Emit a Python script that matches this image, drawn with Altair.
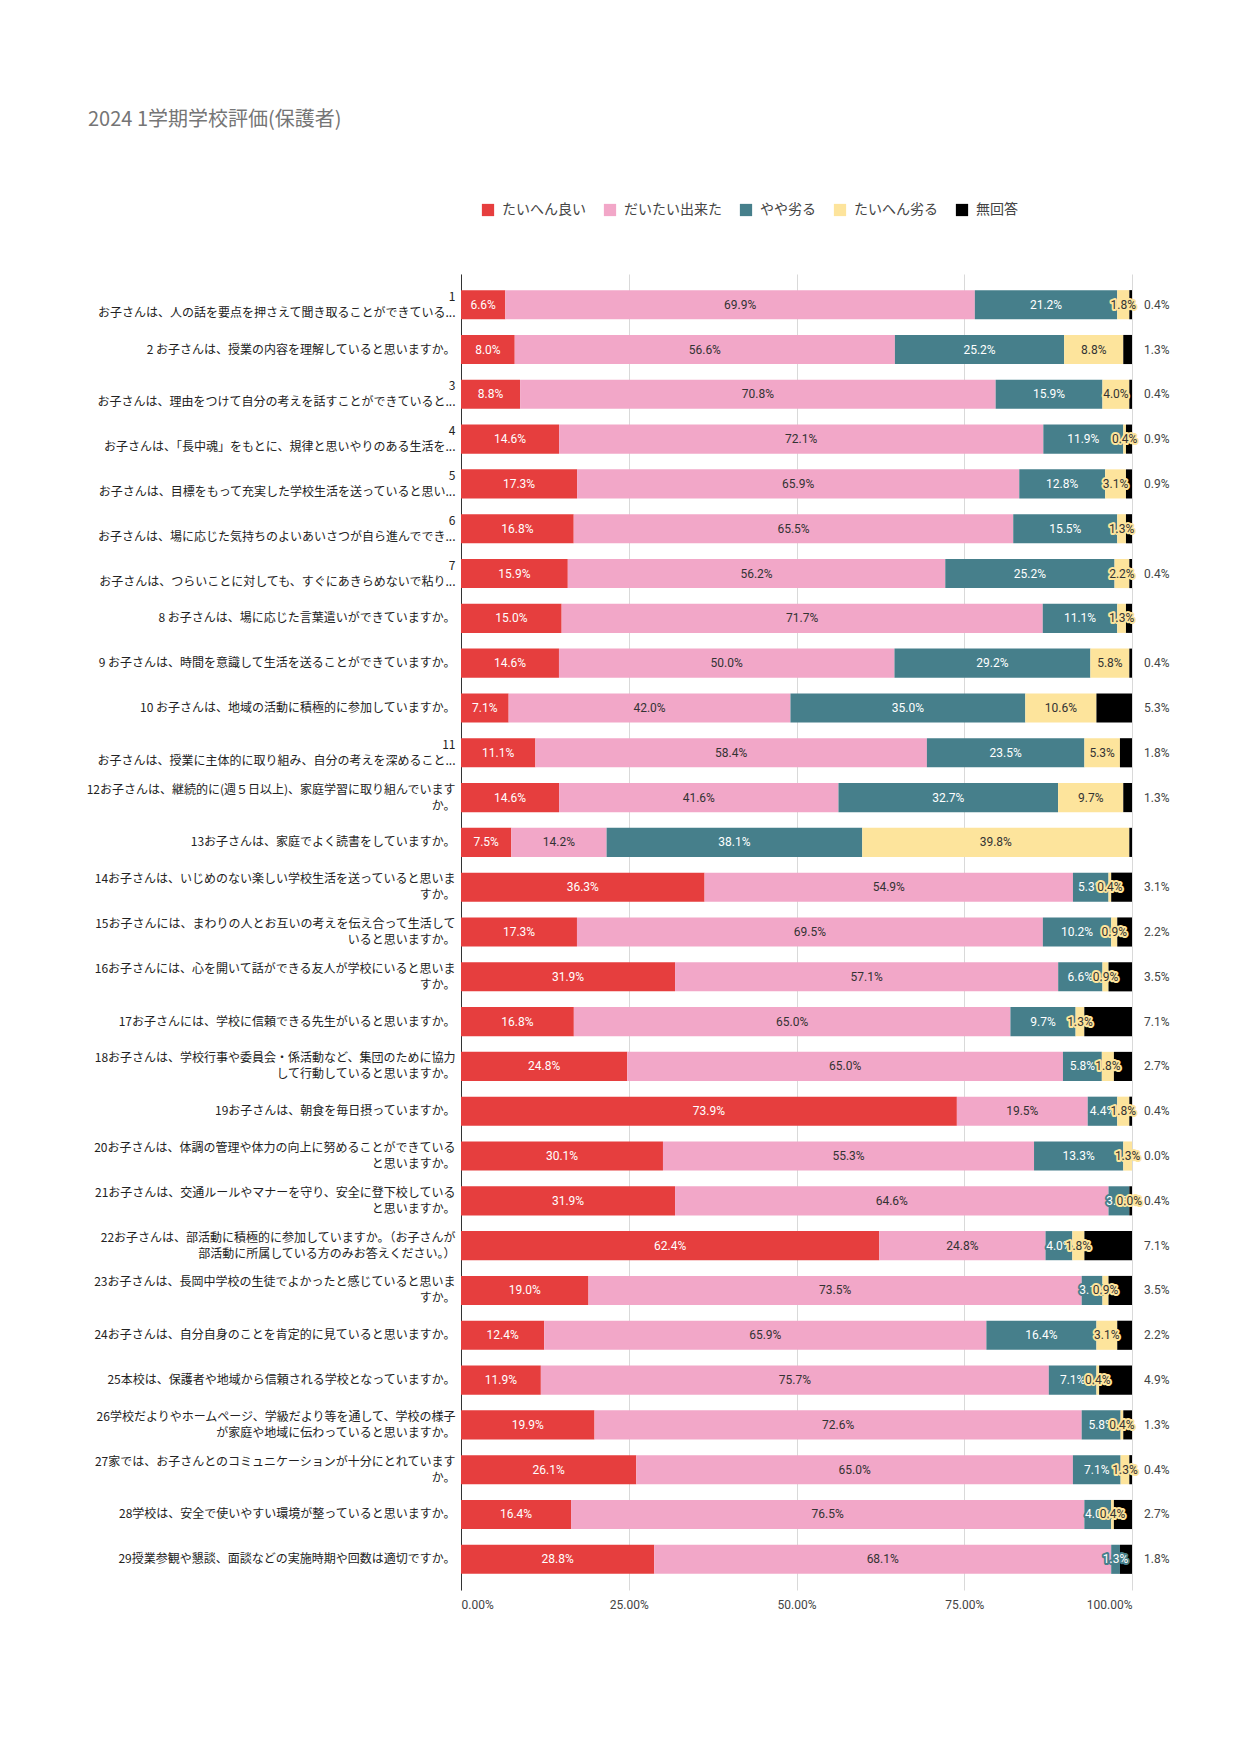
import altair as alt
import pandas as pd

chart_title = "2024 1学期学校評価(保護者)"
categories = ["たいへん良い", "だいたい出来た", "やや劣る", "たいへん劣る", "無回答"]
colors = ["#e63e3e", "#f2a7c8", "#467f8b", "#fde49c", "#000000"]
text_colors = ["#ffffff", "#333333", "#ffffff", "#333333"]

questions = [
    "1|お子さんは、人の話を要点を押さえて聞き取ることができている...",
    "2 お子さんは、授業の内容を理解していると思いますか。",
    "3|お子さんは、理由をつけて自分の考えを話すことができていると...",
    "4|お子さんは、「長中魂」をもとに、規律と思いやりのある生活を...",
    "5|お子さんは、目標をもって充実した学校生活を送っていると思い...",
    "6|お子さんは、場に応じた気持ちのよいあいさつが自ら進んででき...",
    "7|お子さんは、つらいことに対しても、すぐにあきらめないで粘り...",
    "8 お子さんは、場に応じた言葉遣いができていますか。",
    "9 お子さんは、時間を意識して生活を送ることができていますか。",
    "10 お子さんは、地域の活動に積極的に参加していますか。",
    "11|お子さんは、授業に主体的に取り組み、自分の考えを深めること...",
    "12お子さんは、継続的に(週５日以上)、家庭学習に取り組んでいます|か。",
    "13お子さんは、家庭でよく読書をしていますか。",
    "14お子さんは、いじめのない楽しい学校生活を送っていると思いま|すか。",
    "15お子さんには、まわりの人とお互いの考えを伝え合って生活して|いると思いますか。",
    "16お子さんには、心を開いて話ができる友人が学校にいると思いま|すか。",
    "17お子さんには、学校に信頼できる先生がいると思いますか。",
    "18お子さんは、学校行事や委員会・係活動など、集団のために協力|して行動していると思いますか。",
    "19お子さんは、朝食を毎日摂っていますか。",
    "20お子さんは、体調の管理や体力の向上に努めることができている|と思いますか。",
    "21お子さんは、交通ルールやマナーを守り、安全に登下校している|と思いますか。",
    "22お子さんは、部活動に積極的に参加していますか。（お子さんが|部活動に所属している方のみお答えください。）",
    "23お子さんは、長岡中学校の生徒でよかったと感じていると思いま|すか。",
    "24お子さんは、自分自身のことを肯定的に見ていると思いますか。",
    "25本校は、保護者や地域から信頼される学校となっていますか。",
    "26学校だよりやホームページ、学級だより等を通して、学校の様子|が家庭や地域に伝わっていると思いますか。",
    "27家では、お子さんとのコミュニケーションが十分にとれています|か。",
    "28学校は、安全で使いやすい環境が整っていると思いますか。",
    "29授業参観や懇談、面談などの実施時期や回数は適切ですか。",
]

very_good = [6.6, 8.0, 8.8, 14.6, 17.3, 16.8, 15.9, 15.0, 14.6, 7.1, 11.1, 14.6, 7.5, 36.3, 17.3,
             31.9, 16.8, 24.8, 73.9, 30.1, 31.9, 62.4, 19.0, 12.4, 11.9, 19.9, 26.1, 16.4, 28.8]
mostly_done = [69.9, 56.6, 70.8, 72.1, 65.9, 65.5, 56.2, 71.7, 50.0, 42.0, 58.4, 41.6, 14.2, 54.9, 69.5,
               57.1, 65.0, 65.0, 19.5, 55.3, 64.6, 24.8, 73.5, 65.9, 75.7, 72.6, 65.0, 76.5, 68.1]
slightly_poor = [21.2, 25.2, 15.9, 11.9, 12.8, 15.5, 25.2, 11.1, 29.2, 35.0, 23.5, 32.7, 38.1, 5.3, 10.2,
                 6.6, 9.7, 5.8, 4.4, 13.3, 3.1, 4.0, 3.1, 16.4, 7.1, 5.8, 7.1, 4.0, 1.3]
very_poor = [1.8, 8.8, 4.0, 0.4, 3.1, 1.3, 2.2, 1.3, 5.8, 10.6, 5.3, 9.7, 39.8, 0.4, 0.9,
             0.9, 1.3, 1.8, 1.8, 1.3, 0.0, 1.8, 0.9, 3.1, 0.4, 0.4, 1.3, 0.4, None]
no_answer = [0.4, 1.3, 0.4, 0.9, 0.9, 0.9, 0.4, 0.9, 0.4, 5.3, 1.8, 1.3, 0.4, 3.1, 2.2,
             3.5, 7.1, 2.7, 0.4, 0.0, 0.4, 7.1, 3.5, 2.2, 4.9, 1.3, 0.4, 2.7, 1.8]
no_answer_label_hidden = [6, 8, 13]
x_ticks = [0, 0.25, 0.5, 0.75, 1.0]

series = [very_good, mostly_done, slightly_poor, very_poor, no_answer]
rows = []
for i, q in enumerate(questions):
    for k, cat in enumerate(categories):
        v = series[k][i]
        if v is None:
            continue
        rows.append({"q": q, "cat": cat, "order": k, "v": v,
                     "show": 0 if (k == 4 and (i + 1) in no_answer_label_hidden) else 1})
df = pd.DataFrame(rows)

JP = "Noto Sans CJK JP"
NUM = "Roboto"
LINE_H = 16

base = alt.Chart(df).transform_stack(
    stack="v", groupby=["q"], as_=["v0", "v1"], offset="normalize",
    sort=[alt.SortField("order")]
).transform_calculate(
    mid="(datum.v0 + datum.v1) / 2",
    lab="format(datum.v, '.1f') + '%'"
)

y_enc = alt.Y("q:N", sort=questions, title=None,
              scale=alt.Scale(paddingInner=0.35, paddingOuter=0.36),
              axis=alt.Axis(labelExpr="split(datum.label, '|')", labelFont=JP, labelFontSize=12,
                            labelColor="#222222", labelLimit=500, labelPadding=6, ticks=False,
                            domain=True, domainColor="#333333", labelLineHeight=LINE_H,
                            labelAlign="right", labelBaseline="middle",
                            labelOffset={"condition": {"test": "indexof(datum.label, '|') >= 0",
                                                       "value": -LINE_H / 2},
                                         "value": 0}))

bars = base.mark_bar().encode(
    y=y_enc,
    x=alt.X("v0:Q", title=None, scale=alt.Scale(domain=[0, 1]),
            axis=alt.Axis(values=x_ticks, format=".2%", labelFont=NUM, labelFontSize=12,
                          labelColor="#444444", domain=False, ticks=False, grid=True,
                          gridColor="#d9d9d9", labelPadding=9)),
    x2="v1:Q",
    color=alt.Color("cat:N", sort=categories,
                    scale=alt.Scale(domain=categories, range=colors),
                    legend=alt.Legend(orient="none", legendX=20, legendY=-71, direction="horizontal",
                                      title=None, symbolType="square", symbolSize=150,
                                      symbolStrokeWidth=0, labelFont=JP, labelFontSize=14,
                                      labelColor="#444444", columnPadding=17, labelOffset=7,
                                      columns=5)),
)

layers = [bars]
for k in range(4):
    sub = base.transform_filter(f"datum.order == {k}")
    if k in (2, 3):
        layers.append(sub.mark_text(font=NUM, fontSize=12, color=colors[k], stroke=colors[k],
                                    strokeWidth=4, strokeJoin="round").encode(
            y=alt.Y("q:N", sort=questions), x="mid:Q", text="lab:N"))
    layers.append(sub.mark_text(font=NUM, fontSize=12, color=text_colors[k]).encode(
        y=alt.Y("q:N", sort=questions), x="mid:Q", text="lab:N"))

outside = base.transform_filter("datum.order == 4 && datum.show == 1").mark_text(
    font=NUM, fontSize=12, color="#444444", align="left", dx=12
).encode(y=alt.Y("q:N", sort=questions), x="v1:Q", text="lab:N")
layers.append(outside)

chart = alt.layer(*layers).properties(
    width=671, height=1316,
    title=alt.TitleParams(text=chart_title, anchor="start", frame="group", dx=-373, offset=73,
                          fontSize=20, font=JP, color="#757575", fontWeight="normal"),
    autosize=alt.AutoSizeParams(type="none"),
    padding={"left": 453, "top": 266, "right": 100, "bottom": 140},
).configure_view(stroke=None)

chart.save("out.html", embed_options={"renderer": "svg", "actions": False})
